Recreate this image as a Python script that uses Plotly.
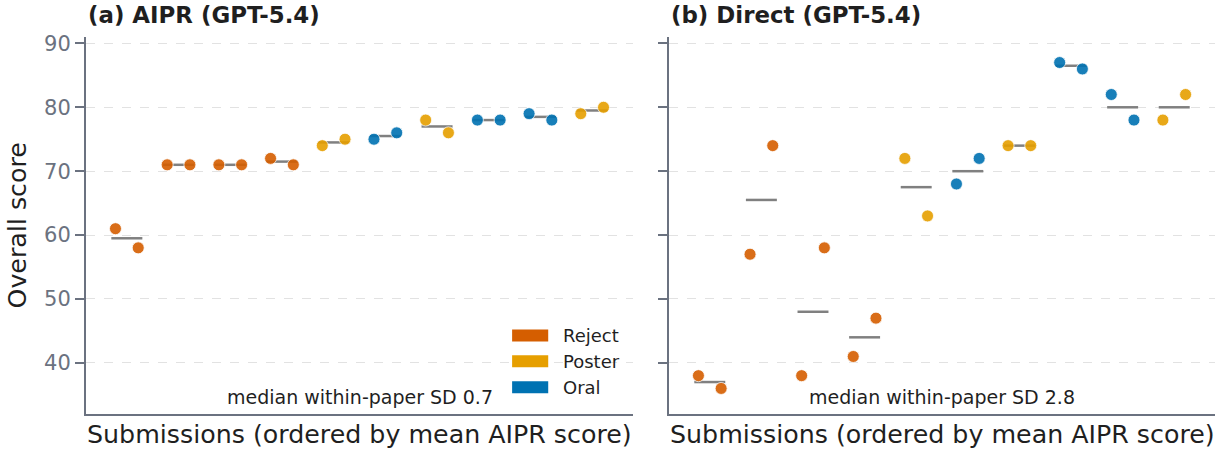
import plotly.graph_objects as go

# ---------------- data ----------------
paper_idx = list(range(10))
decisions = ["Reject", "Reject", "Reject", "Reject", "Poster",
             "Oral", "Poster", "Oral", "Oral", "Poster"]
aipr_run1 = [61, 71, 71, 72, 74, 75, 78, 78, 79, 79]
aipr_run2 = [58, 71, 71, 71, 75, 76, 76, 78, 78, 80]
direct_run1 = [38, 57, 38, 41, 72, 68, 74, 87, 82, 78]
direct_run2 = [36, 74, 58, 47, 63, 72, 74, 86, 78, 82]
panel_titles = ["(a) AIPR (GPT-5.4)", "(b) Direct (GPT-5.4)"]
median_sd = ["0.7", "2.8"]
categories = ["Reject", "Poster", "Oral"]
cat_colors = {"Reject": "#D55E00", "Poster": "#E69F00", "Oral": "#0072B2"}
y_ticks = [40, 50, 60, 70, 80, 90]
x_label = "Submissions (ordered by mean AIPR score)"
y_label = "Overall score"

# ---------------- style ----------------
FONT = "DejaVu Sans"
SPINE = "#6b7280"
TXT = "#1f1f1f"
OFF = 0.22
HALF = 0.3

fig = go.Figure()

panels = [(aipr_run1, aipr_run2, "x", "y"), (direct_run1, direct_run2, "x2", "y2")]
for (r1, r2, xa, ya) in panels:
    # mean segments
    lx, ly = [], []
    for i, a, b in zip(paper_idx, r1, r2):
        m = (a + b) / 2
        lx += [i - HALF, i + HALF, None]
        ly += [m, m, None]
    fig.add_trace(go.Scatter(x=lx, y=ly, mode="lines",
                             line=dict(color="#808080", width=2.5),
                             xaxis=xa, yaxis=ya, hoverinfo="skip"))
    for cat in categories:
        px, py = [], []
        for i, a, b, d in zip(paper_idx, r1, r2, decisions):
            if d == cat:
                px += [i - OFF, i + OFF]
                py += [a, b]
        fig.add_trace(go.Scatter(x=px, y=py, mode="markers", name=cat,
                                 marker=dict(color=cat_colors[cat], size=12, opacity=0.9,
                                             line=dict(color="white", width=0.8)),
                                 xaxis=xa, yaxis=ya))

xcommon = dict(range=[-0.79, 9.79], showline=True, linecolor=SPINE, linewidth=2,
               showticklabels=False, ticks="", showgrid=False, zeroline=False)
ycommon = dict(range=[32, 91], tickvals=y_ticks, showgrid=True, gridcolor="#e2e2e2",
               griddash="dash", gridwidth=1, ticks="outside", ticklen=9, tickwidth=2,
               tickcolor=SPINE, showline=True, linecolor=SPINE, linewidth=2,
               zeroline=False, tickfont=dict(family=FONT, size=21, color=SPINE))

fig.update_layout(
    width=1225, height=449,
    margin=dict(l=86, r=10, t=37, b=35),
    plot_bgcolor="white", paper_bgcolor="white",
    showlegend=False,
    font=dict(family=FONT, color=TXT),
    xaxis=dict(domain=[0, 0.4845], anchor="y", **xcommon),
    xaxis2=dict(domain=[0.5164, 1.0], anchor="y2", **xcommon),
    yaxis=dict(anchor="x", **ycommon),
    yaxis2=dict(anchor="x2", matches="y", showticklabels=False,
                **{k: v for k, v in ycommon.items() if k != "tickfont"}),
)

anns = []
for k, (xd, title, sd) in enumerate(zip(["x domain", "x2 domain"], panel_titles, median_sd)):
    anns.append(dict(text="<b>%s</b>" % title, xref=xd, yref="paper", x=0, y=1.0584,
                     xanchor="left", yanchor="middle", showarrow=False,
                     font=dict(family=FONT, size=22.9, color=TXT)))
    anns.append(dict(text=x_label, xref=xd, yref="paper", x=0.5, y=-0.0557,
                     xanchor="center", yanchor="middle", showarrow=False,
                     font=dict(family=FONT, size=25.3, color=TXT)))
    yd = "y domain" if k == 0 else "y2 domain"
    anns.append(dict(text="median within-paper SD %s" % sd, xref=xd, yref=yd, x=0.5, y=0.045,
                     xanchor="center", yanchor="middle", showarrow=False,
                     font=dict(family=FONT, size=19, color=TXT)))

anns.append(dict(text=y_label, xref="paper", yref="paper", x=-0.0611, y=0.5, textangle=-90,
                 xanchor="center", yanchor="middle", showarrow=False,
                 font=dict(family=FONT, size=25.3, color=TXT)))

# legend (patches + labels) in left panel, lower right
shapes = []
leg_y = [0.208, 0.140, 0.071]
for cat, yy in zip(categories, leg_y):
    shapes.append(dict(type="rect", xref="x domain", yref="y domain",
                       x0=0.779, x1=0.845, y0=yy - 0.016, y1=yy + 0.016,
                       fillcolor=cat_colors[cat], line=dict(width=0)))
    anns.append(dict(text=cat, xref="x domain", yref="y domain", x=0.869, y=yy,
                     xanchor="left", yanchor="middle", showarrow=False,
                     font=dict(family=FONT, size=18, color=TXT)))

fig.update_layout(annotations=anns, shapes=shapes)
fig.write_html("out.html", config={"displayModeBar": False},
               post_script="document.body.style.margin='0px';document.body.style.overflow='hidden';")
